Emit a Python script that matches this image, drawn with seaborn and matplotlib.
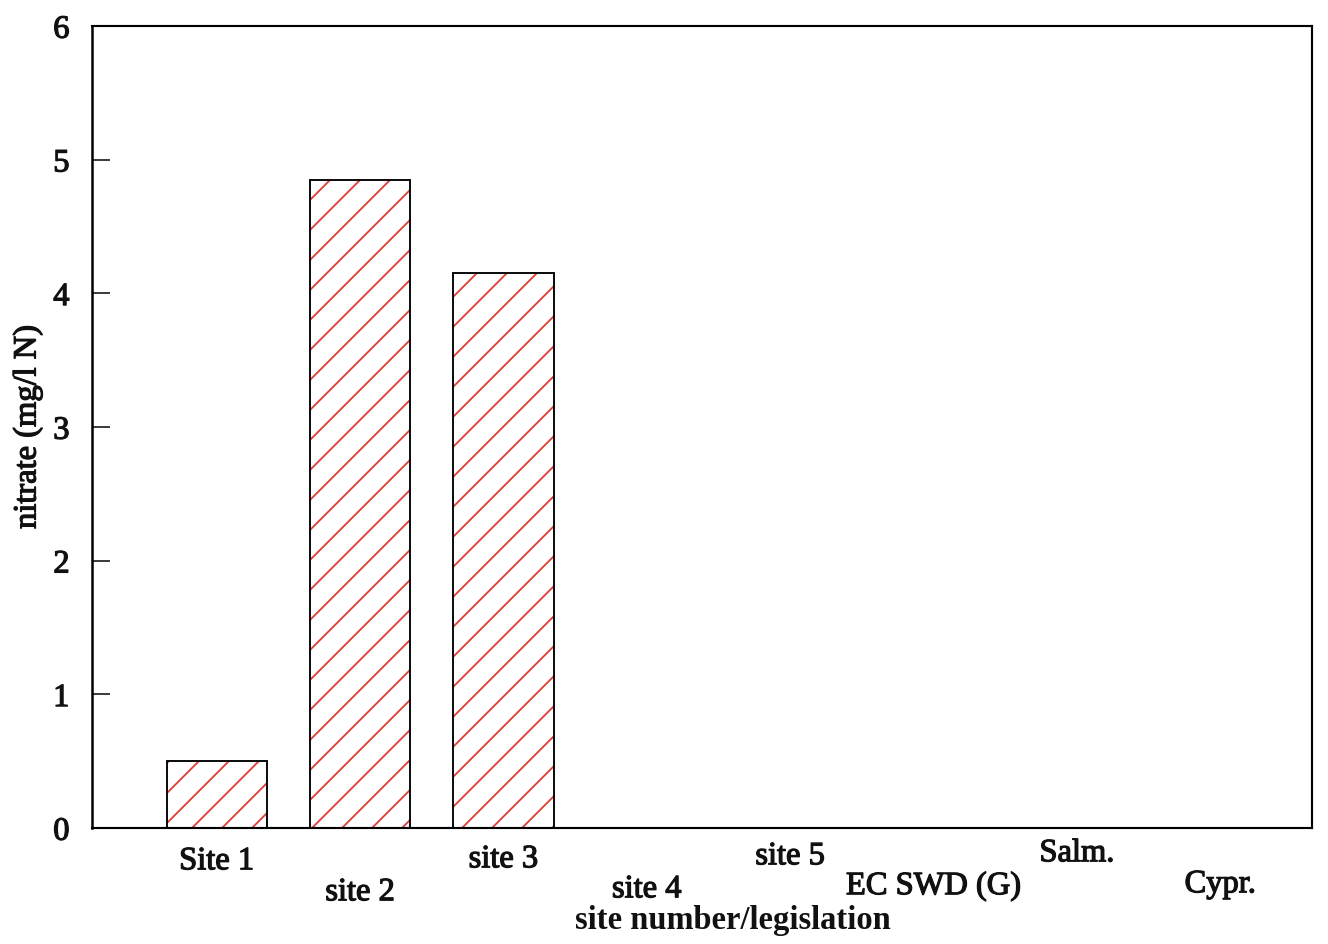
import matplotlib
matplotlib.use("Agg")
import matplotlib.pyplot as plt
import matplotlib.transforms as mtransforms
import matplotlib.patheffects as pe
import seaborn as sns
import pandas as pd

# Nitrate concentration per sampling site / legislation limit
categories = ["Site 1", "site 2", "site 3", "site 4", "site 5",
              "EC SWD (G)", "Salm.", "Cypr."]
nitrate = [0.5, 4.85, 4.15, 0.0, 0.0, 0.0, 0.0, 0.0]
y_ticks = [0, 1, 2, 3, 4, 5, 6]

df = pd.DataFrame({"site": categories, "nitrate": nitrate})

DPI = 180
sns.set_theme(style="white")
plt.rcParams["font.family"] = ["Liberation Serif", "DejaVu Serif"]
plt.rcParams["hatch.linewidth"] = 0.75

fig = plt.figure(figsize=(1328 / DPI, 944 / DPI), dpi=DPI)
ax = fig.add_axes([92 / 1328, 1 - 828 / 944, 1220 / 1328, (828 - 26) / 944])

hatch_red = "#e0403a"
sns.barplot(data=df, x="site", y="nitrate", ax=ax, width=0.7,
            color="white", saturation=1, errorbar=None)

# red hatching inside, black outline drawn on top
for bar in list(ax.patches):
    bar.set_facecolor("none")
    bar.set_edgecolor(hatch_red)
    bar.set_hatch("//")
    bar.set_linewidth(0)
    if bar.get_height() > 0:
        outline = plt.Rectangle(bar.get_xy(), bar.get_width(), bar.get_height(),
                                fill=False, edgecolor="black", linewidth=0.75,
                                zorder=bar.get_zorder() + 1)
        ax.add_patch(outline)

ax.set_ylim(0, 6)
ax.set_xlim(-0.87, 7.64)
ax.set_yticks(y_ticks)
ax.set_yticklabels([str(t) for t in y_ticks])

for side in ["left", "right", "top", "bottom"]:
    ax.spines[side].set_visible(True)
    ax.spines[side].set_color("black")
    ax.spines[side].set_linewidth(0.85)
ax.spines["left"].set_linewidth(1.0)

ax.tick_params(axis="y", direction="in", length=7, width=0.6, color="black",
               pad=9, labelsize=13, labelcolor="#111111", left=True)
ax.tick_params(axis="x", length=0, pad=0, labelsize=13, labelcolor="#111111",
               bottom=False)

ink = [pe.withStroke(linewidth=0.5, foreground="#111111")]

# staggered category labels below the axis
label_drop_px = [33, 64, 31, 61, 28, 58, 25, 56]
for lab, drop in zip(ax.get_xticklabels(), label_drop_px):
    lab.set_va("center")
    lab.set_path_effects(ink)
    lab.set_transform(lab.get_transform() +
                      mtransforms.ScaledTranslation(0, -drop / DPI, fig.dpi_scale_trans))
for lab in ax.get_yticklabels():
    lab.set_path_effects(ink)

ax.set_xlabel("site number/legislation", fontsize=13, fontweight="bold",
              color="#111111")
ax.xaxis.set_label_coords(0.525, -0.115)
ax.xaxis.label.set_va("center")

ax.set_ylabel("nitrate (mg/l N)", fontsize=13, color="#111111")
ax.yaxis.set_label_coords(-0.053, 0.5)
ax.yaxis.label.set_va("center")
ax.yaxis.label.set_path_effects(ink)

fig.savefig("out.png", dpi=DPI, facecolor="white")
